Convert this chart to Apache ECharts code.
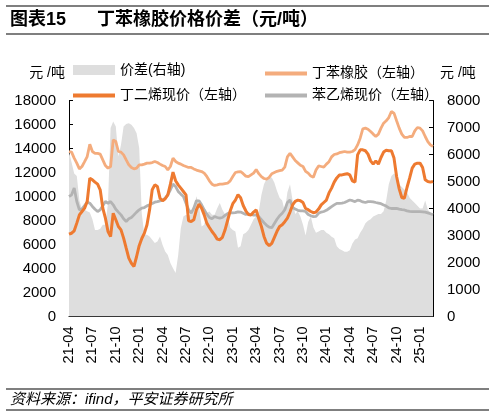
<!DOCTYPE html>
<html><head><meta charset="utf-8">
<script src="https://cdn.jsdelivr.net/npm/echarts@6/dist/echarts.min.js"></script>
<style>html,body{margin:0;padding:0;background:#fff}#c{width:495px;height:418px}</style>
</head><body><div id="c"></div>
<script>
// categories: 3 points per month (day 01, 11, 21), 2021-04 .. 2025-02
const months = [];
for (let y = 21; y <= 25; y++) for (let m = 1; m <= 12; m++) {
  if ((y === 21 && m < 4) || (y === 25 && m > 2)) continue;
  months.push(y + '-' + String(m).padStart(2, '0'));
}
const dayMarks = ['01', '11', '21'];
const categories = [];
months.forEach(mo => dayMarks.forEach(d => categories.push(mo + '-' + d)));

const tickLabels = ['21-04','21-07','21-10','22-01','22-04','22-07','22-10','23-01','23-04','23-07','23-10','24-01','24-04','24-07','24-10','25-01'];

// 价差 (right axis)
const spread = [
6100,5700,5300,5200,4300,3950,3950,3900,3850,3600,
3200,3200,3250,3400,3400,4200,6980,7220,7040,5930,
6360,7040,7130,7160,7100,6980,6790,6240,3800,3030,
3030,2960,2840,2720,2780,2960,2650,2410,2280,1980,
1790,1610,2280,3270,3700,3770,3700,3830,4010,4450,
4140,3330,3400,3830,3890,3770,3770,4010,4200,3950,
3790,3770,3300,3200,3150,2550,2600,3050,3100,3200,
3400,3600,3700,3900,4500,4900,5100,5150,5150,4950,
4650,4400,4300,3900,4600,4900,4300,3800,3900,3700,
3400,3000,3500,3700,3300,3100,3150,3200,3200,3100,
3050,2950,2900,2600,2500,2450,2400,2400,2450,2700,
2850,2900,3100,3250,3450,3550,3600,3700,3750,3800,
3800,3900,4300,4900,5200,5300,5200,4900,4800,4700,
4600,4400,4300,4200,4100,4000,4000,4300,3950,3850,
3800
];
// 丁苯橡胶 (left axis)
const sbr = [
13750,13700,13200,12780,12300,12500,12900,13330,14360,13750,
13600,13600,13530,13050,12580,12360,12500,14720,14580,13750,
13700,13470,13050,12640,12420,12300,12360,12640,12640,12700,
12780,12780,12830,12920,12830,12700,12580,12500,12220,12500,
13200,12920,12780,12700,12580,12500,12420,12420,12300,12200,
12140,12080,11950,11670,11310,11030,10920,10970,11030,11030,
11080,11110,11300,11670,12000,12050,12080,11900,11700,11650,
11800,11950,12250,11900,11650,11500,11450,11600,11900,12000,
12100,12150,12200,12450,13300,13600,13300,13000,12800,12600,
12500,12100,11950,11700,11600,12200,12550,12500,12450,12700,
12900,13300,13500,13550,13650,13700,13750,13700,13700,13750,
13900,14300,14860,15640,15700,15610,15420,15200,15000,15200,
15700,16110,16310,16580,17080,16950,16310,15700,15200,14920,
14920,15000,15000,15470,15750,15700,15470,15000,14580,14300,
14170
];
// 丁二烯现价 (left axis)
const butadiene = [
6860,6940,7140,7780,8470,8750,9030,9580,11530,11390,
11200,11030,10560,9030,8200,7080,6670,8610,8060,7500,
7220,6530,5690,4860,4440,4170,5000,5900,6500,6950,
7640,8890,10560,10970,10830,9860,9640,9810,10140,11030,
12030,11310,10970,10700,10420,10140,7970,7920,8060,8890,
9360,9030,8470,7780,7420,7080,6800,6450,6400,6600,
7200,8000,8800,9400,9700,10150,9900,9250,8810,8500,
8450,8700,8890,8140,7500,6670,6110,5900,6100,6600,
7100,7500,7650,7900,8200,8700,9300,9600,9700,9650,
9500,9000,8900,8750,8650,8700,8950,9300,9500,9700,
10300,10700,11200,11550,11790,11800,11850,11900,11800,11300,
11200,13470,13890,13890,13810,13530,12970,12700,12970,12700,
13250,13700,13850,13810,13810,13200,11670,10640,9920,9860,
10750,11530,12360,12700,12780,12780,12420,11390,11250,11200,
11250
];
// 苯乙烯现价 (left axis)
const styrene = [
10000,10140,10700,9580,8890,8970,9250,9530,9440,9170,
8940,8750,8890,9220,9580,9440,9580,9310,8940,8700,
8470,8140,7920,8140,8250,8470,8700,8890,9030,9080,
9220,9310,9420,9530,9580,9640,9700,9860,10140,10560,
11030,10830,10420,10200,10000,9440,8890,8610,9030,9640,
9640,9310,8890,8530,8250,8140,8330,8250,8200,8250,
8420,8580,8650,8640,8650,8720,8700,8600,8500,8550,
8500,8450,8450,8310,8060,7810,7600,7450,7400,7750,
8100,8400,8600,8900,9500,9700,9100,8950,8850,8800,
8800,8750,8500,8400,8320,8350,8600,8700,8750,8850,
9000,9150,9300,9430,9430,9450,9500,9600,9710,9650,
9570,9700,9650,9550,9500,9570,9580,9560,9500,9450,
9400,9300,9200,9050,9000,9000,9010,8950,8900,8880,
8800,8760,8740,8740,8740,8740,8720,8700,8640,8560,
8480
];

const names = ['价差(右轴)', '丁苯橡胶（左轴）', '丁二烯现价（左轴）', '苯乙烯现价（左轴）'];
const colors = { spread: '#DEDEDE', sbr: '#F4AC7D', bd: '#EE7A30', st: '#B3B3B3' };
const FONT = '"Liberation Sans", Arial, "Noto Sans CJK SC", sans-serif';

function isQuarterTick(idx, val) {
  return val.slice(6) === '01' && tickLabels.indexOf(val.slice(0, 5)) >= 0;
}

const chart = echarts.init(document.getElementById('c'), null, { renderer: 'canvas' });
const legendText = { fontSize: 14, color: '#000', fontFamily: FONT };
chart.setOption({
  animation: false,
  backgroundColor: '#fff',
  grid: { left: 69, right: 62, top: 100.5, bottom: 101.5, containLabel: false },
  legend: [
    { left: 68, top: 58, itemWidth: 42, itemHeight: 10, selectedMode: false, textStyle: legendText,
      data: [{ name: names[0], icon: 'rect', itemStyle: { color: colors.spread } }] },
    { left: 260, top: 61.5, itemWidth: 42, itemHeight: 4, selectedMode: false, textStyle: legendText,
      data: [{ name: names[1], icon: 'rect', itemStyle: { color: colors.sbr } }] },
    { left: 68, top: 83.5, itemWidth: 42, itemHeight: 4, selectedMode: false, textStyle: legendText,
      data: [{ name: names[2], icon: 'rect', itemStyle: { color: colors.bd } }] },
    { left: 260, top: 83.5, itemWidth: 42, itemHeight: 4, selectedMode: false, textStyle: legendText,
      data: [{ name: names[3], icon: 'rect', itemStyle: { color: colors.st } }] }
  ],
  xAxis: {
    type: 'category', data: categories, boundaryGap: false,
    axisLine: { lineStyle: { color: '#000', width: 1 } },
    axisTick: { inside: true, length: 4, interval: isQuarterTick, lineStyle: { color: '#000' } },
    axisLabel: { interval: isQuarterTick, rotate: 90, margin: 10, fontSize: 14.5, color: '#000', fontFamily: FONT,
      formatter: v => v.slice(0, 5) },
    splitLine: { show: false }
  },
  yAxis: [
    { type: 'value', min: 0, max: 18000, interval: 2000, position: 'left',
      axisLine: { show: true, lineStyle: { color: '#000' } },
      axisTick: { show: true, inside: true, length: 4, lineStyle: { color: '#000' } },
      axisLabel: { margin: 13, fontSize: 15, color: '#000', fontFamily: FONT, formatter: v => String(v) },
      splitLine: { show: false } },
    { type: 'value', min: 0, max: 8000, interval: 1000, position: 'right',
      axisLine: { show: true, lineStyle: { color: '#000' } },
      axisTick: { show: true, inside: true, length: 4, lineStyle: { color: '#000' } },
      axisLabel: { margin: 14, fontSize: 15, color: '#000', fontFamily: FONT, formatter: v => String(v) },
      splitLine: { show: false } }
  ],
  series: [
    { name: names[0], type: 'line', yAxisIndex: 1, data: spread, symbol: 'none',
      lineStyle: { width: 0, color: colors.spread }, itemStyle: { color: colors.spread },
      areaStyle: { color: colors.spread, opacity: 1 }, z: 1 },
    { name: names[3], type: 'line', yAxisIndex: 0, data: styrene, symbol: 'none',
      lineStyle: { width: 2.8, color: colors.st }, itemStyle: { color: colors.st }, z: 2 },
    { name: names[1], type: 'line', yAxisIndex: 0, data: sbr, symbol: 'none',
      lineStyle: { width: 2.8, color: colors.sbr }, itemStyle: { color: colors.sbr }, z: 3 },
    { name: names[2], type: 'line', yAxisIndex: 0, data: butadiene, symbol: 'none',
      lineStyle: { width: 3, color: colors.bd }, itemStyle: { color: colors.bd }, z: 4 }
  ],
  graphic: [
    { type: 'line', shape: { x1: 6, y1: 6, x2: 489, y2: 6 }, style: { stroke: '#000', lineWidth: 1.2 } },
    { type: 'line', shape: { x1: 6, y1: 34, x2: 489, y2: 34 }, style: { stroke: '#000', lineWidth: 1.2 } },
    { type: 'text', x: 10, y: 20, style: { text: '图表15', fontSize: 18, fontWeight: 'bold', fill: '#000',
      fontFamily: FONT, verticalAlign: 'middle' } },
    { type: 'text', x: 97, y: 20, style: { text: '丁苯橡胶价格价差（元/吨）', fontSize: 18, fontWeight: 'bold', fill: '#000',
      fontFamily: FONT, verticalAlign: 'middle' } },
    { type: 'text', x: 65, y: 73, style: { text: '元 /吨', fontSize: 14, fill: '#000', fontFamily: FONT,
      align: 'right', verticalAlign: 'middle' } },
    { type: 'text', x: 440, y: 73, style: { text: '元 /吨', fontSize: 14, fill: '#000', fontFamily: FONT,
      align: 'left', verticalAlign: 'middle' } },
    { type: 'line', shape: { x1: 6, y1: 389, x2: 489, y2: 389 }, style: { stroke: '#000', lineWidth: 1.2 } },
    { type: 'text', x: 10, y: 400, style: { text: '资料来源：ifind，平安证券研究所', fontSize: 15, fontStyle: 'italic',
      fill: '#000', fontFamily: FONT, verticalAlign: 'middle' } },
    { type: 'line', shape: { x1: 6, y1: 410, x2: 489, y2: 410 }, style: { stroke: '#000', lineWidth: 1.2 } }
  ]
});
</script>
</body></html>
